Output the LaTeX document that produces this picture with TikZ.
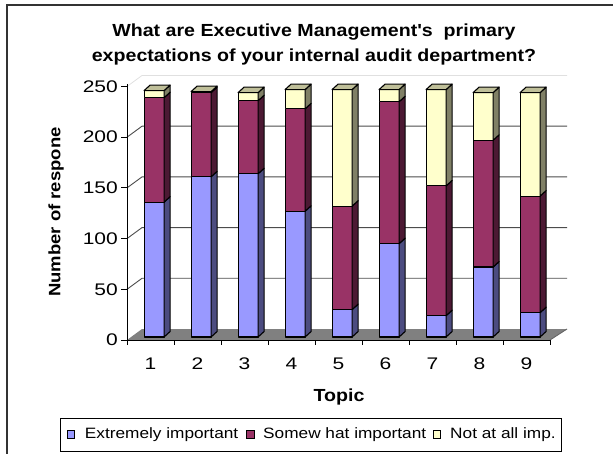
\documentclass[tikz,border=0pt]{standalone}
\usepackage{fontspec}
\setmainfont{Liberation Sans}
\newfontfamily\titlefont{Liberation Sans}[FakeStretch=1.12]
\newfontfamily\numfont{Liberation Sans}[FakeStretch=1.25]
\newfontfamily\keyfont{Liberation Sans}[FakeStretch=1.15]
\usetikzlibrary{calc}

\definecolor{xlblue}{HTML}{9999FF}
\definecolor{xlplum}{HTML}{993366}
\definecolor{xlcream}{HTML}{FFFFCC}
\definecolor{xlfloor}{HTML}{808080}

\begin{document}
\begin{tikzpicture}[x=1pt, y=-1pt,
    bar-face/.style={draw=black, line width=1.1pt, line join=round},
    grid-ln/.style={black!70, line width=0.9pt},
    tick-num/.style={font=\numfont\fontsize{16.8}{18}\selectfont, inner sep=0pt},
    axis-ttl/.style={font=\titlefont\bfseries\fontsize{17.5}{20}\selectfont, inner sep=0pt},
    key-box/.style={draw=black, line width=0.8pt, minimum size=7.5pt, inner sep=0pt},
    key-txt/.style={font=\keyfont\fontsize{15}{17}\selectfont, inner sep=0pt, anchor=west}
  ]
\useasboundingbox (0,0) rectangle (613,454);
\clip (0,0) rectangle (613,454);

% Chart frame (runs off the right and bottom edge)
\draw[line width=1.2pt, black!80] (7,5) rectangle (630,470);

% Title
\node[axis-ttl, anchor=base] (ttl1) at (314,36.7) {What are Executive Management's\ \ primary};
\node[axis-ttl, anchor=base] (ttl2) at (314,61.7) {expectations of your internal audit department?};

% Floor and back wall
\fill[xlfloor] (127,340) -- (550,340) -- (567,329) -- (142,329) -- cycle;
\foreach \v in {50,100,...,200} {
  \draw[grid-ln] (127,{340-1.014*\v}) -- (142,{329-1.014*\v}) -- (567,{329-1.014*\v});
}
\draw[black!12, line width=0.8pt] (127,86.5) -- (142,75.5) -- (567,75.5);

% Stacked bars: extremely / somewhat / not at all
\foreach \ext/\som/\non [count=\i] in {133/103/7, 158/83/1, 161/72/8, 124/101/19, 27/102/115,
                                      92/140/12, 21/128/95, 69/125/47, 24/115/102} {
  \pgfmathsetmacro{\xa}{144.1+47*(\i-1)}
  \pgfmathsetmacro{\xb}{\xa+20}
  \pgfmathsetmacro{\ya}{337-1.014*\ext}
  \pgfmathsetmacro{\yb}{\ya-1.014*\som}
  \pgfmathsetmacro{\yc}{\yb-1.014*\non}
  \foreach \lo/\hi/\col in {337/\ya/xlblue, \ya/\yb/xlplum, \yb/\yc/xlcream} {
    \filldraw[bar-face, fill=\col] (\xa,\lo) rectangle (\xb,\hi);
    \filldraw[bar-face, fill=\col!50!black] (\xb,\lo) -- ++(6,-5.5) -- ({\xb+6},{\hi-5.5}) -- (\xb,\hi) -- cycle;
  }
  \filldraw[bar-face, fill=xlcream!75!black] (\xa,\yc) -- ++(6,-5.5) -- ++(20,0) -- (\xb,\yc) -- cycle;
}

% Axes
\draw[black, line width=1pt] (127,84) -- (127,340) -- (550,340);
\draw[black!60, line width=0.9pt] (550,340) -- (567,329);
\foreach \v in {0,50,...,250} {
  \draw[black, line width=1pt] (121,{340-1.014*\v}) -- (127,{340-1.014*\v});
  \node[tick-num, anchor=east] (yl\v) at (118,{340-1.014*\v}) {\v};
}
\foreach \j in {0,...,9} \draw[black, line width=1pt] ({127+47*\j},340) -- ({127+47*\j},345);
\foreach \i in {1,...,9} \node[tick-num] (xl\i) at ({127+47*(\i-0.5)},364) {\i};

% Axis titles
\node[axis-ttl, font=\titlefont\bfseries\fontsize{16.5}{20}\selectfont, rotate=90] (ytl) at (56,212) {Number of respone};
\node[axis-ttl] (xtl) at (339,397) {Topic};

% Legend
\node[draw=black, line width=0.9pt, minimum width=501.7pt, minimum height=32.7pt, inner sep=0pt] (legend) at (310.85,434.65) {};
\node[key-box, fill=xlblue] (key1) at (71,434.5) {};
\node[key-txt] (keytxt1) at (84.7,434.5) {Extremely important};
\node[key-box, fill=xlplum] (key2) at (250.5,434.5) {};
\node[key-txt] (keytxt2) at (263,434.5) {Somew hat important};
\node[key-box, fill=xlcream] (key3) at (437,434.5) {};
\node[key-txt] (keytxt3) at (450,434.5) {Not at all imp.};

\end{tikzpicture}
\end{document}
